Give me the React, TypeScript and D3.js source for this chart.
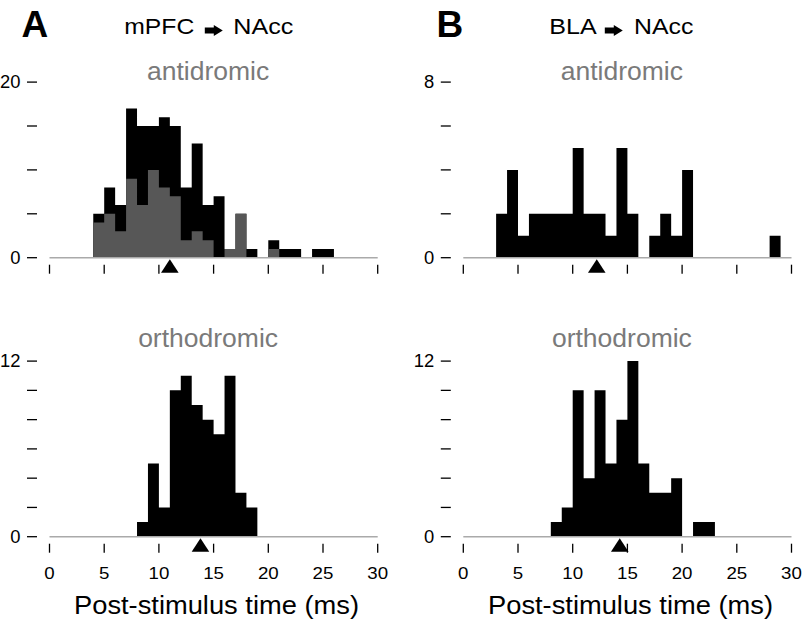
import React from 'react';
import * as d3 from 'd3';

// 1-ms bins, 0..29 ms
const binStarts = [
  0, 1, 2, 3, 4, 5, 6, 7, 8, 9, 10, 11, 12, 13, 14, 15, 16, 17, 18, 19, 20,
  21, 22, 23, 24, 25, 26, 27, 28, 29,
];

// mPFC -> NAcc antidromic: total counts (black) and the gray sub-population
const mpfcAntiTotal = [
  0, 0, 0, 0, 5, 8, 6, 17, 15, 15, 16, 15, 8, 13, 6, 7, 1, 5, 1, 0, 2, 1, 1,
  0, 1, 1, 0, 0, 0, 0,
];
const mpfcAntiGray = [
  0, 0, 0, 0, 4, 5, 3, 9, 6, 10, 8, 7, 2, 3, 2, 0, 1, 5, 0, 0, 1, 0, 0, 0, 0,
  0, 0, 0, 0, 0,
];
const mpfcOrtho = [
  0, 0, 0, 0, 0, 0, 0, 0, 1, 5, 2, 10, 11, 9, 8, 7, 11, 3, 2, 0, 0, 0, 0, 0,
  0, 0, 0, 0, 0, 0,
];

// BLA -> NAcc
const blaAnti = [
  0, 0, 0, 2, 4, 1, 2, 2, 2, 2, 5, 2, 2, 1, 5, 2, 0, 1, 2, 1, 4, 0, 0, 0, 0,
  0, 0, 0, 1, 0,
];
const blaOrtho = [
  0, 0, 0, 0, 0, 0, 0, 0, 1, 2, 10, 4, 10, 5, 8, 12, 5, 3, 3, 4, 0, 1, 1, 0,
  0, 0, 0, 0, 0, 0,
];

// median latency markers (ms)
const medians = { mpfcAnti: 11.0, blaAnti: 12.2, mpfcOrtho: 13.8, blaOrtho: 14.3 };

const xTicks = [0, 5, 10, 15, 20, 25, 30];

const FONT = 'Liberation Sans, Arial, Helvetica, sans-serif';
const GRAY_BAR = '#575757';
const GRAY_TEXT = '#7a7a7a';

interface PanelProps {
  left: number;
  base: number;
  yMax: number;
  yStep: number;
  label: string;
  counts: number[];
  grayCounts?: number[];
  median: number;
  showXLabels: boolean;
}

const Stretched: React.FC<{
  x: number;
  y: number;
  sx: number;
  anchor?: 'start' | 'middle' | 'end';
  size: number;
  weight?: string;
  fill?: string;
  children: React.ReactNode;
}> = ({ x, y, sx, anchor = 'start', size, weight = 'normal', fill = '#000', children }) => (
  <g transform={`translate(${x},${y}) scale(${sx},1)`}>
    <text
      x={0}
      y={0}
      textAnchor={anchor}
      fontSize={size}
      fontWeight={weight}
      fontFamily={FONT}
      fill={fill}
    >
      {children}
    </text>
  </g>
);

const Panel: React.FC<PanelProps> = ({
  left,
  base,
  yMax,
  yStep,
  label,
  counts,
  grayCounts,
  median,
  showXLabels,
}) => {
  const x = d3.scaleLinear().domain([0, 30]).range([left, left + 328.2]);
  const y = d3.scaleLinear().domain([0, yMax]).range([base, base - 175.6]);
  const yTicks = d3.range(0, yMax + 0.001, yStep);
  const mx = x(median);

  // step histogram as one shape, so touching bars have no seams
  const stepArea = (vals: number[]) => {
    const pts = binStarts.map((b, i) => [b, vals[i]] as [number, number]);
    pts.push([30, 0]);
    return (
      d3
        .area<[number, number]>()
        .curve(d3.curveStepAfter)
        .x((d) => x(d[0]))
        .y0(y(0))
        .y1((d) => y(d[1]))(pts) || ''
    );
  };

  return (
    <g>
      <text
        x={(x(0) + x(30)) / 2 - 5.5}
        y={label === 'antidromic' ? base - 177.5 : base - 189.5}
        textAnchor="middle"
        fontSize={26.5}
        fontFamily={FONT}
        fill={GRAY_TEXT}
      >
        {label}
      </text>

      <path d={stepArea(counts)} fill="#000" />
      {grayCounts && <path d={stepArea(grayCounts)} fill={GRAY_BAR} />}

      <line x1={x(0)} x2={x(30)} y1={base} y2={base} stroke="#aaa" strokeWidth={1.6} />

      {yTicks.map((t) => (
        <line
          key={`yt${t}`}
          x1={left - 22.5}
          x2={left - 12.5}
          y1={y(t)}
          y2={y(t)}
          stroke="#000"
          strokeWidth={1.3}
        />
      ))}
      {[0, yMax].map((t) => (
        <Stretched key={`yl${t}`} x={left - 29} y={y(t) + 6.2} sx={1.05} anchor="end" size={17.5}>
          {t}
        </Stretched>
      ))}

      {xTicks.map((t) => (
        <line
          key={`xt${t}`}
          x1={x(t)}
          x2={x(t)}
          y1={base + 7}
          y2={base + 16}
          stroke="#000"
          strokeWidth={1.3}
        />
      ))}
      {showXLabels &&
        xTicks.map((t) => (
          <Stretched key={`xl${t}`} x={x(t)} y={base + 42.5} sx={1.1} anchor="middle" size={17}>
            {t}
          </Stretched>
        ))}

      <path d={`M${mx},${base + 1.5} L${mx + 8.8},${base + 15} L${mx - 8.8},${base + 15} Z`} fill="#000" />
    </g>
  );
};

const Arrow: React.FC<{ x: number; y: number }> = ({ x, y }) => (
  <path
    d={`M${x},${y - 3} L${x + 9},${y - 3} L${x + 9},${y - 5.5} L${x + 18},${y} L${x + 9},${y + 5.5} L${x + 9},${y + 3} L${x},${y + 3} Z`}
    fill="#000"
  />
);

export default function App() {
  const leftA = 49.5;
  const leftB = 463.3;
  const topBase = 257.7;
  const botBase = 536.7;
  return (
    <div style={{ position: 'absolute', left: 0, top: 0 }}>
      <svg width={806} height={621} style={{ display: 'block', background: '#fff' }}>
        <text x={21.5} y={36.7} fontSize={37} fontWeight="bold" fontFamily={FONT}>
          A
        </text>
        <text x={436.5} y={36.7} fontSize={37} fontWeight="bold" fontFamily={FONT}>
          B
        </text>

        <text x={124.3} y={34.3} fontSize={21.5} fontFamily={FONT} textLength={70} lengthAdjust="spacingAndGlyphs">
          mPFC
        </text>
        <Arrow x={204.8} y={30.5} />
        <text x={233.3} y={34.3} fontSize={21.5} fontFamily={FONT} textLength={60} lengthAdjust="spacingAndGlyphs">
          NAcc
        </text>

        <text x={549.3} y={34.3} fontSize={21.5} fontFamily={FONT} textLength={47.4} lengthAdjust="spacingAndGlyphs">
          BLA
        </text>
        <Arrow x={604.8} y={30.5} />
        <text x={634} y={34.3} fontSize={21.5} fontFamily={FONT} textLength={59.3} lengthAdjust="spacingAndGlyphs">
          NAcc
        </text>

        <Panel
          left={leftA}
          base={topBase}
          yMax={20}
          yStep={5}
          label="antidromic"
          counts={mpfcAntiTotal}
          grayCounts={mpfcAntiGray}
          median={medians.mpfcAnti}
          showXLabels={false}
        />
        <Panel
          left={leftB}
          base={topBase}
          yMax={8}
          yStep={2}
          label="antidromic"
          counts={blaAnti}
          median={medians.blaAnti}
          showXLabels={false}
        />
        <Panel
          left={leftA}
          base={botBase}
          yMax={12}
          yStep={2}
          label="orthodromic"
          counts={mpfcOrtho}
          median={medians.mpfcOrtho}
          showXLabels={true}
        />
        <Panel
          left={leftB}
          base={botBase}
          yMax={12}
          yStep={2}
          label="orthodromic"
          counts={blaOrtho}
          median={medians.blaOrtho}
          showXLabels={true}
        />

        <Stretched x={216.5} y={614.3} sx={1.05} anchor="middle" size={26}>
          Post-stimulus time (ms)
        </Stretched>
        <Stretched x={630.5} y={614.3} sx={1.05} anchor="middle" size={26}>
          Post-stimulus time (ms)
        </Stretched>
      </svg>
    </div>
  );
}
